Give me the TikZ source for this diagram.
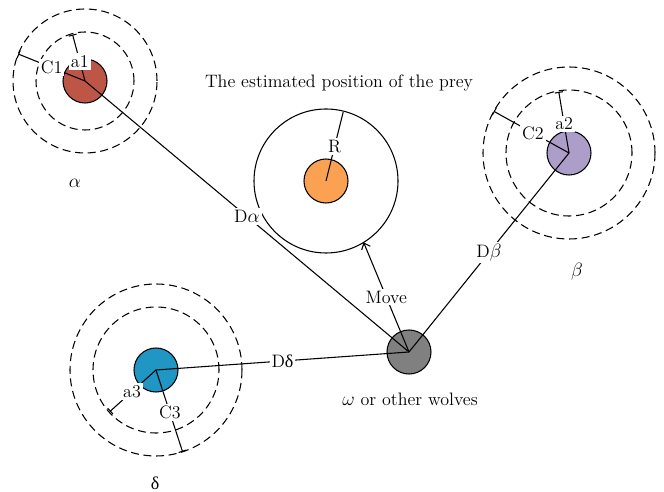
\documentclass[tikz,border=0pt]{standalone}
\usepackage{fontspec}
\newfontfamily\grk{Liberation Serif}
\usetikzlibrary{positioning,arrows.meta}
\definecolor{alphared}{RGB}{190,86,72}
\definecolor{betapurple}{RGB}{172,158,200}
\definecolor{deltablue}{RGB}{32,150,196}
\definecolor{preyorange}{RGB}{250,162,82}
\definecolor{omegagray}{RGB}{128,128,128}
\begin{document}
\begin{tikzpicture}[
  x=0.75pt, y=0.75pt,
  font=\fontsize{13.5}{15}\selectfont,
  wolf/.style={circle, draw=black, line width=0.8pt, minimum size=33pt, inner sep=0pt},
  ring/.style={draw=black, line width=0.8pt, dash pattern=on 6pt off 3.5pt},
  lnk/.style={draw=black, line width=0.8pt},
  rad/.style={lnk, -{Bar[width=6pt,line width=0.8pt]}},
  mv/.style={lnk, -{Straight Barb[length=4pt,width=7pt]}},
  tag/.style={fill=white, inner sep=1.5pt}
]
\useasboundingbox (0,0) rectangle (664,492);

\draw[ring] (85,411) circle[radius=49] (85,411) circle[radius=72];
\draw[ring] (569,339) circle[radius=63] (569,339) circle[radius=86];
\draw[ring] (156,122) circle[radius=63] (156,122) circle[radius=86];
\draw[lnk] (326,311) circle[radius=72];

\node[wolf, fill=alphared]   (al) at (85,411)  {};
\node[wolf, fill=betapurple] (be) at (569,339) {};
\node[wolf, fill=deltablue]  (de) at (156,122) {};
\node[wolf, fill=preyorange] (pr) at (326,311) {};
\node[wolf, fill=omegagray]  (om) at (409,140) {};

\node (ttl) at (339,409) {The estimated position of the prey};
\node (lal) at (75,309)  {$\alpha$};
\node (lbe) at (577,220) {$\beta$};
\node (lde) at (155,9)   {\grk δ};
\node (lom) at (410,93)  {$\omega$ or other wolves};

\path (al.center) ++(158:72) coordinate (c1) (al.center) ++(105:48) coordinate (a1);
\path (be.center) ++(151:86) coordinate (c2) (be.center) ++(99.5:62) coordinate (a2);
\path (de.center) ++(288:86) coordinate (c3) (de.center) ++(222:62) coordinate (a3);
\path (pr.center) ++(76:71) coordinate (r) (pr.center) ++(-58.5:72) coordinate (mvend);

\draw[lnk] (al.center) -- node[tag] {D$\alpha$} (om.center);
\draw[lnk] (be.center) -- node[tag] {D$\beta$} (om.center);
\draw[lnk] (de.center) -- node[tag] {D{\grk δ}} (om.center);
\draw[mv] (om.center) -- node[tag] {Move} (mvend);

\draw[rad] (al.center) -- node[tag] {C1} (c1);
\draw[rad] (al.center) -- node[tag, pos=0.42] {a1} (a1);
\draw[rad] (be.center) -- node[tag, pos=0.48] {C2} (c2);
\draw[rad] (be.center) -- node[tag, pos=0.48] {a2} (a2);
\draw[rad] (de.center) -- node[tag, pos=0.52] {C3} (c3);
\draw[rad] (de.center) -- node[tag, pos=0.52] {a3} (a3);
\draw[lnk] (pr.center) -- node[tag] {R} (r);
\end{tikzpicture}
\end{document}
